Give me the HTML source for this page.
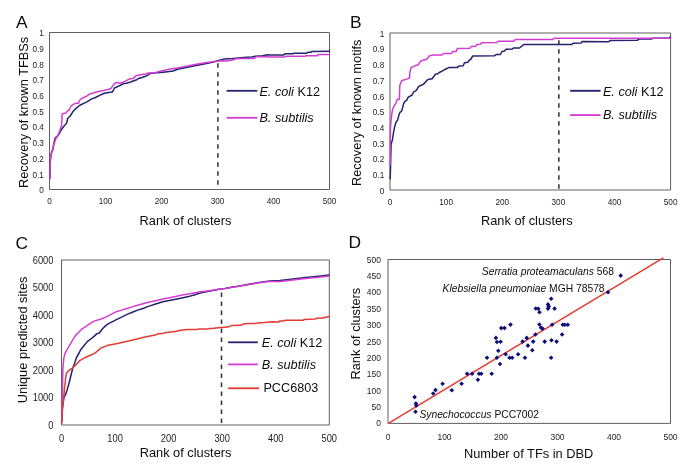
<!DOCTYPE html>
<html><head><meta charset="utf-8"><style>
html,body{margin:0;padding:0;background:#fff;}
svg{display:block;will-change:transform;}
text{font-family:"Liberation Sans",sans-serif;}
</style></head><body>
<svg width="685" height="469" viewBox="0 0 685 469">
<rect width="685" height="469" fill="#fff"/>
<text x="16.0" y="28" font-size="17.4" text-anchor="start" fill="#0d0d0d" >A</text>
<text x="350.1" y="28.2" font-size="17.4" text-anchor="start" fill="#0d0d0d" >B</text>
<text x="15.6" y="248.6" font-size="17.4" text-anchor="start" fill="#0d0d0d" >C</text>
<text x="348.6" y="248.3" font-size="17.4" text-anchor="start" fill="#0d0d0d" >D</text>
<path d="M49.5 32.5H329.5V189.5H49.5Z" fill="none" stroke="#5e5e5e" stroke-width="1.0" stroke-linejoin="miter"/>
<text transform="translate(43.8 193.29) scale(1 1.15)" font-size="8.2" text-anchor="end" fill="#1c1c1c" >0</text>
<text transform="translate(43.8 177.59) scale(1 1.15)" font-size="8.2" text-anchor="end" fill="#1c1c1c" >0.1</text>
<text transform="translate(43.8 161.89) scale(1 1.15)" font-size="8.2" text-anchor="end" fill="#1c1c1c" >0.2</text>
<text transform="translate(43.8 146.19) scale(1 1.15)" font-size="8.2" text-anchor="end" fill="#1c1c1c" >0.3</text>
<text transform="translate(43.8 130.49) scale(1 1.15)" font-size="8.2" text-anchor="end" fill="#1c1c1c" >0.4</text>
<text transform="translate(43.8 114.8) scale(1 1.15)" font-size="8.2" text-anchor="end" fill="#1c1c1c" >0.5</text>
<text transform="translate(43.8 99.09) scale(1 1.15)" font-size="8.2" text-anchor="end" fill="#1c1c1c" >0.6</text>
<text transform="translate(43.8 83.4) scale(1 1.15)" font-size="8.2" text-anchor="end" fill="#1c1c1c" >0.7</text>
<text transform="translate(43.8 67.69) scale(1 1.15)" font-size="8.2" text-anchor="end" fill="#1c1c1c" >0.8</text>
<text transform="translate(43.8 51.99) scale(1 1.15)" font-size="8.2" text-anchor="end" fill="#1c1c1c" >0.9</text>
<text transform="translate(43.8 36.3) scale(1 1.15)" font-size="8.2" text-anchor="end" fill="#1c1c1c" >1</text>
<text transform="translate(49.5 204.1) scale(1 1.15)" font-size="8.2" text-anchor="middle" fill="#1c1c1c" >0</text>
<text transform="translate(105.5 204.1) scale(1 1.15)" font-size="8.2" text-anchor="middle" fill="#1c1c1c" >100</text>
<text transform="translate(161.5 204.1) scale(1 1.15)" font-size="8.2" text-anchor="middle" fill="#1c1c1c" >200</text>
<text transform="translate(217.5 204.1) scale(1 1.15)" font-size="8.2" text-anchor="middle" fill="#1c1c1c" >300</text>
<text transform="translate(273.5 204.1) scale(1 1.15)" font-size="8.2" text-anchor="middle" fill="#1c1c1c" >400</text>
<text transform="translate(329.5 204.1) scale(1 1.15)" font-size="8.2" text-anchor="middle" fill="#1c1c1c" >500</text>
<text x="139.6" y="225" font-size="12.8" text-anchor="start" fill="#0d0d0d" >Rank of clusters</text>
<text x="28" y="188" font-size="12.8" text-anchor="start" fill="#0d0d0d" transform="rotate(-90 28 188)" >Recovery of known TFBSs</text>
<line x1="217.9" y1="63.2" x2="217.9" y2="189" stroke="#2e2e2e" stroke-width="1.5" stroke-dasharray="4.5,4.5"/>
<polyline points="49.9,178.6 50.1,168 50.4,159.4 51.2,154 52.7,150 54.8,139 55.7,137.3 57.4,136.4 59.1,133.9 60.8,130.5 63.5,126.8 65.7,124.1 66.8,122.8 67.6,118.5 70.2,116 73.1,111.3 76.3,108.1 79.5,105.5 82.7,103.9 85.9,102.3 89.1,100.7 91.2,99.1 95.5,97.5 98.7,95.9 101.9,94.3 104.4,93.3 108.8,92.4 112.3,92 113.6,89.8 114.4,88 117.5,86.7 121,85 123.6,83.6 126.3,83.2 129.8,82.3 133.3,81 136.8,79.7 138.5,78.4 142,77.5 145.5,76.2 148.2,74.9 149.9,73.6 154.3,73.1 160,72.5 165.3,71.9 173.1,71 177.5,69.3 186.3,67.5 195,65.8 203.8,64 212.5,62.3 219.4,60.3 223.8,59.1 232.5,58.6 243.9,57.5 251.8,57.1 255.3,56.2 262.3,55.8 267.5,54.7 270,54.9 284,54.9 284.9,53.8 292.8,53.8 293.6,53.3 306.8,53.3 307.7,52.3 311.2,52.3 311.6,51.4 329.5,51.2" fill="none" stroke="#23236e" stroke-width="1.5" stroke-linejoin="round" stroke-linecap="round"/>
<polyline points="49.9,178.6 50.1,168 50.4,159.4 51.2,154 52.3,150 54,144.1 55.7,139 58.2,134.7 59.9,130.5 61.6,125.3 62.1,114.3 63.3,113.4 65.9,113 67.6,110.9 69.4,109.7 71,106 73.1,104.4 76.3,103.3 78.5,103.3 79.5,100.7 80.6,99.1 83.8,97.5 87,95.9 89.1,94.3 92.3,93.2 96.6,92.1 100.8,91.1 103.5,90.6 108.8,89.3 110.9,88.5 113.1,85.4 114.9,83.2 116.6,82.6 120.1,83.2 122.8,82.3 126.3,80.6 129.8,78.8 133.3,78.4 135.9,75.8 138.5,75.3 142,74.4 145.5,74 147.7,73.1 150.8,73.1 154.3,73 160,71.3 168.8,69.3 177.5,68 186.3,66.2 195,64.4 203.8,63.1 212.5,61.8 220.3,60.8 226.4,61 231.6,60.3 236,58.8 243.9,58.4 254.4,58.4 256.2,56.8 263.2,56.5 270,57.1 284.9,57.1 285.8,56.2 305,56.2 305.9,55.8 317.3,55.8 318.2,54.4 329.5,54.4" fill="none" stroke="#d23cd2" stroke-width="1.5" stroke-linejoin="round" stroke-linecap="round"/>
<line x1="226.6" y1="90.8" x2="257.3" y2="90.8" stroke="#23236e" stroke-width="1.8" />
<line x1="226.6" y1="117.8" x2="257.3" y2="117.8" stroke="#d23cd2" stroke-width="1.8" />
<text x="259.4" y="95.7" font-size="12.7" fill="#0d0d0d"><tspan font-style="italic">E. coli</tspan> K12</text>
<text x="259.4" y="122" font-size="12.7" fill="#0d0d0d" font-style="italic">B. subtilis</text>
<path d="M390.0 33.0H670.6V190.0H390.0Z" fill="none" stroke="#5e5e5e" stroke-width="1.0" stroke-linejoin="miter"/>
<text transform="translate(384.2 193.79) scale(1 1.15)" font-size="8.2" text-anchor="end" fill="#1c1c1c" >0</text>
<text transform="translate(384.2 178.09) scale(1 1.15)" font-size="8.2" text-anchor="end" fill="#1c1c1c" >0.1</text>
<text transform="translate(384.2 162.39) scale(1 1.15)" font-size="8.2" text-anchor="end" fill="#1c1c1c" >0.2</text>
<text transform="translate(384.2 146.69) scale(1 1.15)" font-size="8.2" text-anchor="end" fill="#1c1c1c" >0.3</text>
<text transform="translate(384.2 130.99) scale(1 1.15)" font-size="8.2" text-anchor="end" fill="#1c1c1c" >0.4</text>
<text transform="translate(384.2 115.3) scale(1 1.15)" font-size="8.2" text-anchor="end" fill="#1c1c1c" >0.5</text>
<text transform="translate(384.2 99.59) scale(1 1.15)" font-size="8.2" text-anchor="end" fill="#1c1c1c" >0.6</text>
<text transform="translate(384.2 83.9) scale(1 1.15)" font-size="8.2" text-anchor="end" fill="#1c1c1c" >0.7</text>
<text transform="translate(384.2 68.19) scale(1 1.15)" font-size="8.2" text-anchor="end" fill="#1c1c1c" >0.8</text>
<text transform="translate(384.2 52.49) scale(1 1.15)" font-size="8.2" text-anchor="end" fill="#1c1c1c" >0.9</text>
<text transform="translate(384.2 36.8) scale(1 1.15)" font-size="8.2" text-anchor="end" fill="#1c1c1c" >1</text>
<text transform="translate(390.0 205) scale(1 1.15)" font-size="8.2" text-anchor="middle" fill="#1c1c1c" >0</text>
<text transform="translate(446.12 205) scale(1 1.15)" font-size="8.2" text-anchor="middle" fill="#1c1c1c" >100</text>
<text transform="translate(502.24 205) scale(1 1.15)" font-size="8.2" text-anchor="middle" fill="#1c1c1c" >200</text>
<text transform="translate(558.36 205) scale(1 1.15)" font-size="8.2" text-anchor="middle" fill="#1c1c1c" >300</text>
<text transform="translate(614.48 205) scale(1 1.15)" font-size="8.2" text-anchor="middle" fill="#1c1c1c" >400</text>
<text transform="translate(670.6 205) scale(1 1.15)" font-size="8.2" text-anchor="middle" fill="#1c1c1c" >500</text>
<text x="481" y="225.4" font-size="12.8" text-anchor="start" fill="#0d0d0d" >Rank of clusters</text>
<text x="360.6" y="186" font-size="12.8" text-anchor="start" fill="#0d0d0d" transform="rotate(-90 360.6 186)" >Recovery of known motifs</text>
<line x1="570.2" y1="90.8" x2="600.6" y2="90.8" stroke="#23236e" stroke-width="1.9" />
<line x1="570.2" y1="115.1" x2="600.6" y2="115.1" stroke="#d23cd2" stroke-width="1.9" />
<text x="602.9" y="95.7" font-size="12.7" fill="#0d0d0d"><tspan font-style="italic">E. coli</tspan> K12</text>
<text x="602.9" y="118.6" font-size="12.7" fill="#0d0d0d" font-style="italic">B. subtilis</text>
<line x1="558.85" y1="40.2" x2="558.85" y2="189.5" stroke="#2e2e2e" stroke-width="1.5" stroke-dasharray="4.5,4.5"/>
<polyline points="390.2,178.8 390.7,160 391.1,143.9 392.4,140 393.5,132.7 394.5,127.3 396.1,122 397.7,119.9 398.8,115.6 399.9,112.4 401.5,111.3 402.5,108.1 403.6,103.9 404.7,101.7 406.8,100.1 407.9,97.5 410.5,95.9 412.1,95 413.7,91.9 415.8,90.8 417.4,88.7 418.5,86.6 420.6,85.5 423.3,84.4 425.4,82.3 427,80.2 429.1,79.1 431.8,79.1 433.4,77 435.5,74.3 437.6,73.8 439.8,72.2 442.6,70.9 445.3,69.2 448.8,67.6 457.5,67.4 458.8,66.1 463.2,65.8 464.5,62.8 468,62.3 468.9,60.4 470.6,59.5 472.8,56 494.3,55.8 496,54.6 500.3,54.5 502,51.5 504.6,51 505.9,49.3 512.1,49.1 513.4,48 519.5,48 523.9,44.4 571.9,44.4 573.2,43.3 581.1,43.1 582,41.6 608.9,41.7 609.9,40.6 637.3,40.3 638.8,39.1 651.5,39.1 652.5,38.3 669.6,38 670.4,36.8" fill="none" stroke="#23236e" stroke-width="1.5" stroke-linejoin="round" stroke-linecap="round"/>
<polyline points="390.2,165 390.3,140 390.5,127.3 391.1,119.9 391.9,113.5 392.6,109.2 394,106 396.1,102.8 397.2,99.6 399.3,99.1 399.5,95 399.8,85.5 401.4,81.2 403,80.2 406.7,79.1 409.4,78 409.9,72.7 411,67.9 412.6,66.9 414.7,65.8 418.5,64.7 419.5,62.6 421.1,61 423.8,59.9 426.4,59.4 428,57.8 429.6,55.7 433.4,55.1 441.9,55.1 443.1,53.6 451.4,53.4 452.7,51.6 456.2,51.5 457.3,48.6 469.8,48.3 471.1,46.6 475.9,46.2 476.8,44.6 480.7,44.2 481.6,42.7 496.9,42.4 498.2,41.3 513.8,41.2 515.1,39.6 552.8,39.5 554,38.3 670.4,38.3" fill="none" stroke="#d23cd2" stroke-width="1.5" stroke-linejoin="round" stroke-linecap="round"/>
<path d="M61.5 260.0H329.3V425.0H61.5Z" fill="none" stroke="#5e5e5e" stroke-width="1.0" stroke-linejoin="miter"/>
<text transform="translate(53.4 428.56) scale(1 1.08)" font-size="9.3" text-anchor="end" fill="#1c1c1c" >0</text>
<text transform="translate(53.4 401.06) scale(1 1.08)" font-size="9.3" text-anchor="end" fill="#1c1c1c" >1000</text>
<text transform="translate(53.4 373.56) scale(1 1.08)" font-size="9.3" text-anchor="end" fill="#1c1c1c" >2000</text>
<text transform="translate(53.4 346.06) scale(1 1.08)" font-size="9.3" text-anchor="end" fill="#1c1c1c" >3000</text>
<text transform="translate(53.4 318.56) scale(1 1.08)" font-size="9.3" text-anchor="end" fill="#1c1c1c" >4000</text>
<text transform="translate(53.4 291.06) scale(1 1.08)" font-size="9.3" text-anchor="end" fill="#1c1c1c" >5000</text>
<text transform="translate(53.4 263.56) scale(1 1.08)" font-size="9.3" text-anchor="end" fill="#1c1c1c" >6000</text>
<text transform="translate(61.5 442.3) scale(1 1.08)" font-size="9.3" text-anchor="middle" fill="#1c1c1c" >0</text>
<text transform="translate(115.06 442.3) scale(1 1.08)" font-size="9.3" text-anchor="middle" fill="#1c1c1c" >100</text>
<text transform="translate(168.62 442.3) scale(1 1.08)" font-size="9.3" text-anchor="middle" fill="#1c1c1c" >200</text>
<text transform="translate(222.18 442.3) scale(1 1.08)" font-size="9.3" text-anchor="middle" fill="#1c1c1c" >300</text>
<text transform="translate(275.74 442.3) scale(1 1.08)" font-size="9.3" text-anchor="middle" fill="#1c1c1c" >400</text>
<text transform="translate(329.3 442.3) scale(1 1.08)" font-size="9.3" text-anchor="middle" fill="#1c1c1c" >500</text>
<text x="139.7" y="457.4" font-size="12.8" text-anchor="start" fill="#0d0d0d" >Rank of clusters</text>
<text x="27.2" y="403.2" font-size="12.8" text-anchor="start" fill="#0d0d0d" transform="rotate(-90 27.2 403.2)" >Unique predicted sites</text>
<line x1="221.5" y1="292.5" x2="221.5" y2="424.5" stroke="#2e2e2e" stroke-width="1.5" stroke-dasharray="4.5,4.5"/>
<polyline points="61.6,423 62.2,410 63,404 64,397 65.3,395.3 67.1,390 68.9,383.7 70.8,376 72.7,368.3 74.6,363.2 76.5,357.5 79.1,353 80.5,350 83.9,345.8 87.3,341.6 90.7,339 94.1,336.4 96.7,333.9 99.3,333 102.5,328.8 105.7,325.6 108.9,323.4 112.1,321.8 116.3,319.7 121.6,317.1 127,314.4 132.3,312.3 137.6,310.1 143,308.5 148.3,306.4 156.4,303.7 162.8,301.8 169.2,300.5 175.6,299.2 182,297.9 188.4,296.6 194.8,294.7 201.2,292.8 207.6,291.5 214,290.2 220.4,289 225,288.4 232.5,287.1 239.9,285.9 247.4,284.4 254.9,283.2 262.3,281.9 269.8,281.1 280,280.4 292.8,279.1 305.6,277.6 318.4,276.3 329,275" fill="none" stroke="#23236e" stroke-width="1.5" stroke-linejoin="round" stroke-linecap="round"/>
<polyline points="61.8,420 62.2,400 62.5,390 62.9,368.3 63.8,358.1 65,353.6 66.8,350 70.2,344.1 72.8,339.9 75.4,335.6 78.8,332.2 82.2,328.8 85.6,326.6 89.9,323.6 94.1,321.1 100.3,319.2 105.7,317.1 111,314.4 116.3,311.7 121.6,310.1 127,308.5 132.3,306.9 137.6,305.3 143,303.7 148.3,302.3 156.4,300.5 162.8,298.9 169.2,297.7 175.6,296.4 182,295.1 188.4,294.1 194.8,292.8 201.2,291.8 207.6,290.9 214,290 220.4,289 225,288.6 232.5,287.3 239.9,286.1 247.4,284.8 254.9,283.6 262.3,282.3 269.8,281.5 280,281.4 292.8,280.1 305.6,278.4 318.4,277.2 329,275.9" fill="none" stroke="#d23cd2" stroke-width="1.5" stroke-linejoin="round" stroke-linecap="round"/>
<polyline points="61.7,423 62.3,412 62.8,404.6 63.9,396 64.5,388 64.9,385 65.8,377 66.4,373.5 68.9,370.3 72.8,367.8 75.3,365.5 77.5,363 80.1,360.4 84.6,357.8 89.7,355.5 94.2,353.6 96.8,351.6 99.3,349.4 101.2,347.8 103,347.2 107,345.6 117.5,343.4 126.3,341.6 135,339.4 143.8,337.3 152.5,335.6 155,335.1 158.5,333.8 163.8,333.3 166.4,332.4 175.1,331.6 180.4,330.3 187.4,329.4 197,329.4 198.8,329 208.4,329 209.3,328.4 212,328.5 220.8,327.6 227.8,327.1 231.3,325.6 240.9,325.3 242.6,324.3 247,323.6 255.8,323.6 257.5,322.9 264.5,322.5 272,321.8 278.8,322 279.6,321.1 284,321 284.9,320.3 303.3,320.3 304.2,319.4 315.5,319 316.4,318.3 323.4,318.1 324.3,317.5 329,316.5" fill="none" stroke="#e03c32" stroke-width="1.5" stroke-linejoin="round" stroke-linecap="round"/>
<line x1="228.1" y1="342.3" x2="257.8" y2="342.3" stroke="#23236e" stroke-width="1.8" />
<line x1="228.1" y1="364.4" x2="257.8" y2="364.4" stroke="#d23cd2" stroke-width="1.8" />
<line x1="228.1" y1="388.3" x2="259" y2="388.3" stroke="#e03c32" stroke-width="1.8" />
<text x="261.7" y="346.8" font-size="12.7" fill="#0d0d0d"><tspan font-style="italic">E. coli</tspan> K12</text>
<text x="261.7" y="369.4" font-size="12.7" fill="#0d0d0d" font-style="italic">B. subtilis</text>
<text x="263.4" y="392.4" font-size="12.7" fill="#0d0d0d">PCC6803</text>
<path d="M388.0 259.5H670.5V423.4H388.0Z" fill="none" stroke="#5e5e5e" stroke-width="1.0" stroke-linejoin="miter"/>
<text transform="translate(381.0 426.48) scale(1 1.12)" font-size="8.5" text-anchor="end" fill="#1c1c1c" >0</text>
<text transform="translate(381.0 410.09) scale(1 1.12)" font-size="8.5" text-anchor="end" fill="#1c1c1c" >50</text>
<text transform="translate(381.0 393.7) scale(1 1.12)" font-size="8.5" text-anchor="end" fill="#1c1c1c" >100</text>
<text transform="translate(381.0 377.31) scale(1 1.12)" font-size="8.5" text-anchor="end" fill="#1c1c1c" >150</text>
<text transform="translate(381.0 360.92) scale(1 1.12)" font-size="8.5" text-anchor="end" fill="#1c1c1c" >200</text>
<text transform="translate(381.0 344.53) scale(1 1.12)" font-size="8.5" text-anchor="end" fill="#1c1c1c" >250</text>
<text transform="translate(381.0 328.14) scale(1 1.12)" font-size="8.5" text-anchor="end" fill="#1c1c1c" >300</text>
<text transform="translate(381.0 311.75) scale(1 1.12)" font-size="8.5" text-anchor="end" fill="#1c1c1c" >350</text>
<text transform="translate(381.0 295.36) scale(1 1.12)" font-size="8.5" text-anchor="end" fill="#1c1c1c" >400</text>
<text transform="translate(381.0 278.97) scale(1 1.12)" font-size="8.5" text-anchor="end" fill="#1c1c1c" >450</text>
<text transform="translate(381.0 262.58) scale(1 1.12)" font-size="8.5" text-anchor="end" fill="#1c1c1c" >500</text>
<text transform="translate(388.0 439.7) scale(1 1.12)" font-size="8.5" text-anchor="middle" fill="#1c1c1c" >0</text>
<text transform="translate(444.5 439.7) scale(1 1.12)" font-size="8.5" text-anchor="middle" fill="#1c1c1c" >100</text>
<text transform="translate(501.0 439.7) scale(1 1.12)" font-size="8.5" text-anchor="middle" fill="#1c1c1c" >200</text>
<text transform="translate(557.5 439.7) scale(1 1.12)" font-size="8.5" text-anchor="middle" fill="#1c1c1c" >300</text>
<text transform="translate(614.0 439.7) scale(1 1.12)" font-size="8.5" text-anchor="middle" fill="#1c1c1c" >400</text>
<text transform="translate(670.5 439.7) scale(1 1.12)" font-size="8.5" text-anchor="middle" fill="#1c1c1c" >500</text>
<text x="464" y="457.7" font-size="12.8" text-anchor="start" fill="#0d0d0d" >Number of TFs in DBD</text>
<text x="360.4" y="379.5" font-size="12.8" text-anchor="start" fill="#0d0d0d" transform="rotate(-90 360.4 379.5)" >Rank of clusters</text>
<line x1="388" y1="423.6" x2="663.3" y2="257.8" stroke="#e03c32" stroke-width="1.5" />
<path d="M414.6 394.8L416.9 397.1L414.6 399.4L412.3 397.1Z" fill="#0c0c7a"/>
<path d="M415.9 401.2L418.2 403.5L415.9 405.8L413.6 403.5Z" fill="#0c0c7a"/>
<path d="M416.3 403.1L418.6 405.4L416.3 407.7L414 405.4Z" fill="#0c0c7a"/>
<path d="M415.5 409.5L417.8 411.8L415.5 414.1L413.2 411.8Z" fill="#0c0c7a"/>
<path d="M433.2 391.2L435.5 393.5L433.2 395.8L430.9 393.5Z" fill="#0c0c7a"/>
<path d="M435.5 387.8L437.8 390.1L435.5 392.4L433.2 390.1Z" fill="#0c0c7a"/>
<path d="M442.6 381.5L444.9 383.8L442.6 386.1L440.3 383.8Z" fill="#0c0c7a"/>
<path d="M451.8 387.9L454.1 390.2L451.8 392.5L449.5 390.2Z" fill="#0c0c7a"/>
<path d="M461.6 381.5L463.9 383.8L461.6 386.1L459.3 383.8Z" fill="#0c0c7a"/>
<path d="M467.1 371.5L469.4 373.8L467.1 376.1L464.8 373.8Z" fill="#0c0c7a"/>
<path d="M472.1 371.5L474.4 373.8L472.1 376.1L469.8 373.8Z" fill="#0c0c7a"/>
<path d="M479 371.5L481.3 373.8L479 376.1L476.7 373.8Z" fill="#0c0c7a"/>
<path d="M481.3 371.5L483.6 373.8L481.3 376.1L479 373.8Z" fill="#0c0c7a"/>
<path d="M477.9 377.5L480.2 379.8L477.9 382.1L475.6 379.8Z" fill="#0c0c7a"/>
<path d="M491.7 371.5L494 373.8L491.7 376.1L489.4 373.8Z" fill="#0c0c7a"/>
<path d="M487 355.5L489.3 357.8L487 360.1L484.7 357.8Z" fill="#0c0c7a"/>
<path d="M496.9 355.5L499.2 357.8L496.9 360.1L494.6 357.8Z" fill="#0c0c7a"/>
<path d="M500 361.7L502.3 364L500 366.3L497.7 364Z" fill="#0c0c7a"/>
<path d="M498.3 348.5L500.6 350.8L498.3 353.1L496 350.8Z" fill="#0c0c7a"/>
<path d="M505.7 352L508 354.3L505.7 356.6L503.4 354.3Z" fill="#0c0c7a"/>
<path d="M509.5 355.5L511.8 357.8L509.5 360.1L507.2 357.8Z" fill="#0c0c7a"/>
<path d="M512.2 355.5L514.5 357.8L512.2 360.1L509.9 357.8Z" fill="#0c0c7a"/>
<path d="M518.1 352L520.4 354.3L518.1 356.6L515.8 354.3Z" fill="#0c0c7a"/>
<path d="M525 355.5L527.3 357.8L525 360.1L522.7 357.8Z" fill="#0c0c7a"/>
<path d="M495.9 335.6L498.2 337.9L495.9 340.2L493.6 337.9Z" fill="#0c0c7a"/>
<path d="M497 339.7L499.3 342L497 344.3L494.7 342Z" fill="#0c0c7a"/>
<path d="M500.6 339.4L502.9 341.7L500.6 344L498.3 341.7Z" fill="#0c0c7a"/>
<path d="M501.3 325.8L503.6 328.1L501.3 330.4L499 328.1Z" fill="#0c0c7a"/>
<path d="M504.5 325.8L506.8 328.1L504.5 330.4L502.2 328.1Z" fill="#0c0c7a"/>
<path d="M510.5 322.3L512.8 324.6L510.5 326.9L508.2 324.6Z" fill="#0c0c7a"/>
<path d="M522.6 339.3L524.9 341.6L522.6 343.9L520.3 341.6Z" fill="#0c0c7a"/>
<path d="M526.7 335.6L529 337.9L526.7 340.2L524.4 337.9Z" fill="#0c0c7a"/>
<path d="M527.9 343.3L530.2 345.6L527.9 347.9L525.6 345.6Z" fill="#0c0c7a"/>
<path d="M532.3 348L534.6 350.3L532.3 352.6L530 350.3Z" fill="#0c0c7a"/>
<path d="M533.2 339.3L535.5 341.6L533.2 343.9L530.9 341.6Z" fill="#0c0c7a"/>
<path d="M535.4 332.2L537.7 334.5L535.4 336.8L533.1 334.5Z" fill="#0c0c7a"/>
<path d="M539.4 322.2L541.7 324.5L539.4 326.8L537.1 324.5Z" fill="#0c0c7a"/>
<path d="M541 325.5L543.3 327.8L541 330.1L538.7 327.8Z" fill="#0c0c7a"/>
<path d="M542.5 326.3L544.8 328.6L542.5 330.9L540.2 328.6Z" fill="#0c0c7a"/>
<path d="M544.7 339.3L547 341.6L544.7 343.9L542.4 341.6Z" fill="#0c0c7a"/>
<path d="M551.5 338L553.8 340.3L551.5 342.6L549.2 340.3Z" fill="#0c0c7a"/>
<path d="M556.6 339.3L558.9 341.6L556.6 343.9L554.3 341.6Z" fill="#0c0c7a"/>
<path d="M551.1 355.4L553.4 357.7L551.1 360L548.8 357.7Z" fill="#0c0c7a"/>
<path d="M552.1 322.4L554.4 324.7L552.1 327L549.8 324.7Z" fill="#0c0c7a"/>
<path d="M562.1 332.2L564.4 334.5L562.1 336.8L559.8 334.5Z" fill="#0c0c7a"/>
<path d="M562.8 322.4L565.1 324.7L562.8 327L560.5 324.7Z" fill="#0c0c7a"/>
<path d="M564.8 322.4L567.1 324.7L564.8 327L562.5 324.7Z" fill="#0c0c7a"/>
<path d="M567.8 322.4L570.1 324.7L567.8 327L565.5 324.7Z" fill="#0c0c7a"/>
<path d="M535.8 306.2L538.1 308.5L535.8 310.8L533.5 308.5Z" fill="#0c0c7a"/>
<path d="M538.3 306.5L540.6 308.8L538.3 311.1L536 308.8Z" fill="#0c0c7a"/>
<path d="M539.5 309.9L541.8 312.2L539.5 314.5L537.2 312.2Z" fill="#0c0c7a"/>
<path d="M551.2 296.4L553.5 298.7L551.2 301L548.9 298.7Z" fill="#0c0c7a"/>
<path d="M548 302.1L550.3 304.4L548 306.7L545.7 304.4Z" fill="#0c0c7a"/>
<path d="M548.8 304.2L551.1 306.5L548.8 308.8L546.5 306.5Z" fill="#0c0c7a"/>
<path d="M548 306.3L550.3 308.6L548 310.9L545.7 308.6Z" fill="#0c0c7a"/>
<path d="M554.6 306.3L556.9 308.6L554.6 310.9L552.3 308.6Z" fill="#0c0c7a"/>
<path d="M608 289.9L610.3 292.2L608 294.5L605.7 292.2Z" fill="#0c0c7a"/>
<path d="M620.7 273.3L623 275.6L620.7 277.9L618.4 275.6Z" fill="#0c0c7a"/>
<text x="481.8" y="275.3" font-size="10.3" fill="#0d0d0d"><tspan font-style="italic">Serratia proteamaculans</tspan> 568</text>
<text x="442.6" y="292.3" font-size="10.3" fill="#0d0d0d"><tspan font-style="italic">Klebsiella pneumoniae</tspan> MGH 78578</text>
<text x="419.4" y="417.7" font-size="10.3" fill="#0d0d0d"><tspan font-style="italic">Synechococcus</tspan> PCC7002</text>
</svg>
</body></html>
